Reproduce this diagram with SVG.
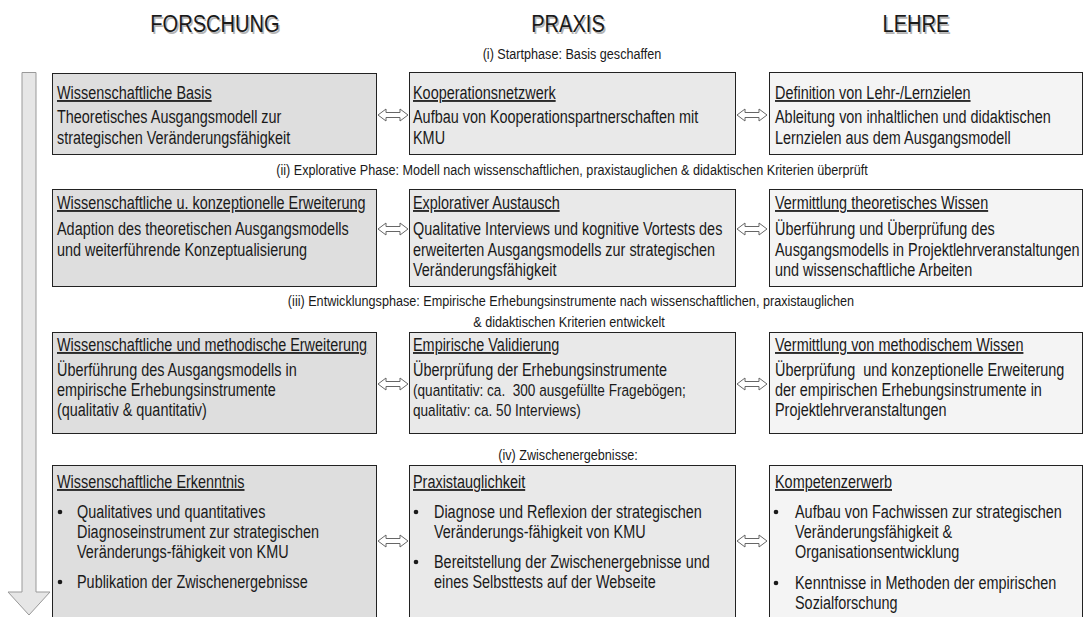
<svg xmlns="http://www.w3.org/2000/svg" width="1086" height="617" viewBox="0 0 1086 617">
<style>
text{font-family:"Liberation Sans",Arial,sans-serif;fill:#1a1a1a;font-size:17.6px}
.h{font-size:24.5px;text-anchor:middle}
.hs{font-size:24.5px;text-anchor:middle;fill:#b4b4b4}
.ph{text-anchor:middle;font-size:15.4px}
.sm{font-size:16.6px}
.t{text-decoration:underline}
.b1{fill:#dedede;stroke:#222;stroke-width:1}
.b2{fill:#e9e9e9;stroke:#222;stroke-width:1}
.b3{fill:#f4f4f4;stroke:#222;stroke-width:1}
.arr{fill:#fff;stroke:#666;stroke-width:1}
.dot{fill:#1a1a1a}
</style>
<defs>
<path id="da" class="arr" d="M0,0 L8,-6 L8,-2.5 L22,-2.5 L22,-6 L30,0 L22,6 L22,2.5 L8,2.5 L8,6 Z"/>
</defs>
<rect width="1086" height="617" fill="#fff"/>
<g id="headers">
<text class="hs" transform="translate(216.5 33.5) scale(.82 1)">FORSCHUNG</text><text class="h" transform="translate(215 32) scale(.82 1)">FORSCHUNG</text>
<text class="hs" transform="translate(569.5 33.5) scale(.82 1)">PRAXIS</text><text class="h" transform="translate(568 32) scale(.82 1)">PRAXIS</text>
<text class="hs" transform="translate(917.5 33.5) scale(.82 1)">LEHRE</text><text class="h" transform="translate(916 32) scale(.82 1)">LEHRE</text>
</g>
<g id="timeline">
<path d="M22,72.5 L36,72.5 L36,592 L50,592 L29,615 L8,592 L22,592 Z" fill="#e6e6e6" stroke="#999" stroke-width="1"/>
</g>
<g id="phases">
<text class="ph" transform="translate(572 59) scale(.82 1)">(i) Startphase: Basis geschaffen</text>
<text class="ph" transform="translate(572 175) scale(.82 1)">(ii) Explorative Phase: Modell nach wissenschaftlichen, praxistauglichen &amp; didaktischen Kriterien überprüft</text>
<text class="ph" transform="translate(571 306) scale(.82 1)">(iii) Entwicklungsphase: Empirische Erhebungsinstrumente nach wissenschaftlichen, praxistauglichen</text>
<text class="ph" transform="translate(569 327) scale(.82 1)">&amp; didaktischen Kriterien entwickelt</text>
<text class="ph" transform="translate(568 460) scale(.82 1)">(iv) Zwischenergebnisse:</text>
</g>
<g id="connectors">
<use href="#da" x="378" y="115"/><use href="#da" x="737" y="115"/>
<use href="#da" x="378" y="229"/><use href="#da" x="737" y="229"/>
<use href="#da" x="378" y="384"/><use href="#da" x="737" y="384"/>
<use href="#da" x="378" y="541"/><use href="#da" x="737" y="541"/>
</g>
<g id="n11"><rect class="b1" x="52.5" y="73.5" width="324" height="81"/>
<text class="t" transform="translate(57 99) scale(.82 1)">Wissenschaftliche Basis</text>
<text transform="translate(57 123) scale(.82 1)">Theoretisches Ausgangsmodell zur</text>
<text transform="translate(57 143.5) scale(.82 1)">strategischen Veränderungsfähigkeit</text></g>
<g id="n12"><rect class="b2" x="409.5" y="72.5" width="326" height="82"/>
<text class="t" transform="translate(413 99) scale(.82 1)">Kooperationsnetzwerk</text>
<text transform="translate(413 123) scale(.82 1)">Aufbau von Kooperationspartnerschaften mit</text>
<text transform="translate(413 143.5) scale(.82 1)">KMU</text></g>
<g id="n13"><rect class="b3" x="769.5" y="72.5" width="313" height="82"/>
<text class="t" transform="translate(775 99) scale(.82 1)">Definition von Lehr-/Lernzielen</text>
<text transform="translate(775 123) scale(.82 1)">Ableitung von inhaltlichen und didaktischen</text>
<text transform="translate(775 143.5) scale(.82 1)">Lernzielen aus dem Ausgangsmodell</text></g>
<g id="n21"><rect class="b1" x="52.5" y="189.5" width="324" height="97"/>
<text class="t" transform="translate(57 209) scale(.82 1)">Wissenschaftliche u. konzeptionelle Erweiterung</text>
<text transform="translate(57 235) scale(.82 1)">Adaption des theoretischen Ausgangsmodells</text>
<text transform="translate(57 255.5) scale(.82 1)">und weiterführende Konzeptualisierung</text></g>
<g id="n22"><rect class="b2" x="409.5" y="189.5" width="326" height="97"/>
<text class="t" transform="translate(413 209) scale(.82 1)">Explorativer Austausch</text>
<text transform="translate(413 235) scale(.82 1)">Qualitative Interviews und kognitive Vortests des</text>
<text transform="translate(413 255.5) scale(.82 1)">erweiterten Ausgangsmodells zur strategischen</text>
<text transform="translate(413 276) scale(.82 1)">Veränderungsfähigkeit</text></g>
<g id="n23"><rect class="b3" x="769.5" y="189.5" width="313" height="97"/>
<text class="t" transform="translate(775 209) scale(.82 1)">Vermittlung theoretisches Wissen</text>
<text transform="translate(775 235) scale(.82 1)">Überführung und Überprüfung des</text>
<text transform="translate(775 255.5) scale(.82 1)">Ausgangsmodells in Projektlehrveranstaltungen</text>
<text transform="translate(775 276) scale(.82 1)">und wissenschaftliche Arbeiten</text></g>
<g id="n31"><rect class="b1" x="52.5" y="332.5" width="324" height="101"/>
<text class="t" transform="translate(57 351) scale(.82 1)">Wissenschaftliche und methodische Erweiterung</text>
<text transform="translate(57 376) scale(.82 1)">Überführung des Ausgangsmodells in</text>
<text transform="translate(57 396) scale(.82 1)">empirische Erhebungsinstrumente</text>
<text transform="translate(57 416) scale(.82 1)">(qualitativ &amp; quantitativ)</text></g>
<g id="n32"><rect class="b2" x="409.5" y="332.5" width="326" height="101"/>
<text class="t" transform="translate(413 351) scale(.82 1)">Empirische Validierung</text>
<text transform="translate(413 376) scale(.82 1)">Überprüfung der Erhebungsinstrumente</text>
<text class="sm" xml:space="preserve" transform="translate(413 396) scale(.82 1)">(quantitativ: ca.  300 ausgefüllte Fragebögen;</text>
<text class="sm" transform="translate(413 416) scale(.82 1)">qualitativ: ca. 50 Interviews)</text></g>
<g id="n33"><rect class="b3" x="769.5" y="332.5" width="313" height="101"/>
<text class="t" transform="translate(775 351) scale(.82 1)">Vermittlung von methodischem Wissen</text>
<text xml:space="preserve" transform="translate(775 376) scale(.82 1)">Überprüfung  und konzeptionelle Erweiterung</text>
<text transform="translate(775 396) scale(.82 1)">der empirischen Erhebungsinstrumente in</text>
<text transform="translate(775 416) scale(.82 1)">Projektlehrveranstaltungen</text></g>
<g id="n41"><rect class="b1" x="52.5" y="465.5" width="324" height="160"/>
<text class="t" transform="translate(57 488) scale(.82 1)">Wissenschaftliche Erkenntnis</text>
<circle class="dot" cx="60" cy="512" r="2.3"/>
<text transform="translate(77 518) scale(.82 1)">Qualitatives und quantitatives</text>
<text transform="translate(77 538) scale(.82 1)">Diagnoseinstrument zur strategischen</text>
<text transform="translate(77 558) scale(.82 1)">Veränderungs-fähigkeit von KMU</text>
<circle class="dot" cx="60" cy="582" r="2.3"/>
<text transform="translate(77 588) scale(.82 1)">Publikation der Zwischenergebnisse</text></g>
<g id="n42"><rect class="b2" x="409.5" y="465.5" width="326" height="160"/>
<text class="t" transform="translate(413 488) scale(.82 1)">Praxistauglichkeit</text>
<circle class="dot" cx="416" cy="512" r="2.3"/>
<text transform="translate(434 518) scale(.82 1)">Diagnose und Reflexion der strategischen</text>
<text transform="translate(434 538) scale(.82 1)">Veränderungs-fähigkeit von KMU</text>
<circle class="dot" cx="416" cy="562" r="2.3"/>
<text transform="translate(434 568) scale(.82 1)">Bereitstellung der Zwischenergebnisse und</text>
<text transform="translate(434 588) scale(.82 1)">eines Selbsttests auf der Webseite</text></g>
<g id="n43"><rect class="b3" x="769.5" y="465.5" width="313" height="160"/>
<text class="t" transform="translate(775 488) scale(.82 1)">Kompetenzerwerb</text>
<circle class="dot" cx="776" cy="512" r="2.3"/>
<text transform="translate(795 518) scale(.82 1)">Aufbau von Fachwissen zur strategischen</text>
<text transform="translate(795 538) scale(.82 1)">Veränderungsfähigkeit &amp;</text>
<text transform="translate(795 558) scale(.82 1)">Organisationsentwicklung</text>
<circle class="dot" cx="776" cy="583" r="2.3"/>
<text transform="translate(795 589) scale(.82 1)">Kenntnisse in Methoden der empirischen</text>
<text transform="translate(795 609) scale(.82 1)">Sozialforschung</text></g>
</svg>
